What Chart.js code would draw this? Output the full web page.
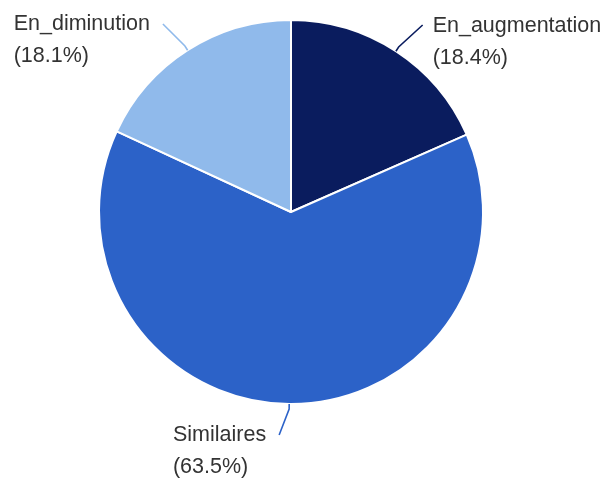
<!DOCTYPE html>
<html>
<head>
<meta charset="utf-8">
<script src="https://cdn.jsdelivr.net/npm/chart.js@4/dist/chart.umd.min.js"></script>
<style>
  html, body { margin: 0; padding: 0; background: #fff; }
  canvas { display: block; }
</style>
</head>
<body>
<canvas id="myChart" width="610" height="479"></canvas>
<script>
// Répartition (pie) //
var categories = ['En_augmentation', 'Similaires', 'En_diminution'];
var percents = [18.4, 63.5, 18.1];
var colors = ['#0a1c5e', '#2c62c8', '#90baeb'];

// draw outside labels with leader lines
var outsideLabels = {
  id: 'outsideLabels',
  afterDatasetsDraw: function(chart) {
    var ctx = chart.ctx;
    var meta = chart.getDatasetMeta(0);
    ctx.save();
    ctx.font = '21.5px "Liberation Sans", Arial, sans-serif';
    ctx.textBaseline = 'alphabetic';
    ctx.textAlign = 'left';
    meta.data.forEach(function(arc, i) {
      var p = arc.getProps(['x', 'y', 'startAngle', 'endAngle', 'outerRadius'], true);
      var mid = (p.startAngle + p.endAngle) / 2;
      var dx = Math.cos(mid), dy = Math.sin(mid);
      var r = p.outerRadius;
      var x0 = p.x + r * dx, y0 = p.y + r * dy;
      var x1 = p.x + (r + 5) * dx, y1 = p.y + (r + 5) * dy;
      var left = dx < 0.05;
      var x2, y2;
      if (Math.abs(dx) < 0.3) {
        x2 = x1 + (left ? -10 : 10);
        y2 = y1 + (dy > 0 ? 26 : -26);
      } else {
        x2 = x1 + (left ? -22 : 24);
        y2 = y1 + (dy > 0 ? 22 : -22);
      }
      ctx.strokeStyle = colors[i];
      ctx.lineWidth = 1.6;
      ctx.beginPath();
      ctx.moveTo(x0, y0);
      ctx.lineTo(x1, y1);
      ctx.lineTo(x2, y2);
      ctx.stroke();

      var line1 = categories[i];
      var line2 = '(' + percents[i].toFixed(1) + '%)';
      var w = Math.max(ctx.measureText(line1).width, ctx.measureText(line2).width);
      var tx = left ? x2 - 13 - w : x2 + 10;
      ctx.fillStyle = '#333333';
      ctx.fillText(line1, tx, y2 + 6.5);
      ctx.fillText(line2, tx, y2 + 38.5);
    });
    ctx.restore();
  }
};

var chart = document.getElementById('myChart');
var myChart = new Chart(chart, {
  type: 'pie',
  data: {
    labels: categories,
    datasets: [{
      data: percents,
      backgroundColor: colors,
      borderColor: '#ffffff',
      borderWidth: 2,
      hoverOffset: 0
    }]
  },
  options: {
    responsive: false,
    animation: false,
    layout: { padding: { left: 98, right: 126, top: 19, bottom: 74 } },
    plugins: {
      legend: { display: false },
      tooltip: { enabled: false }
    }
  },
  plugins: [outsideLabels]
});
</script>
</body>
</html>
